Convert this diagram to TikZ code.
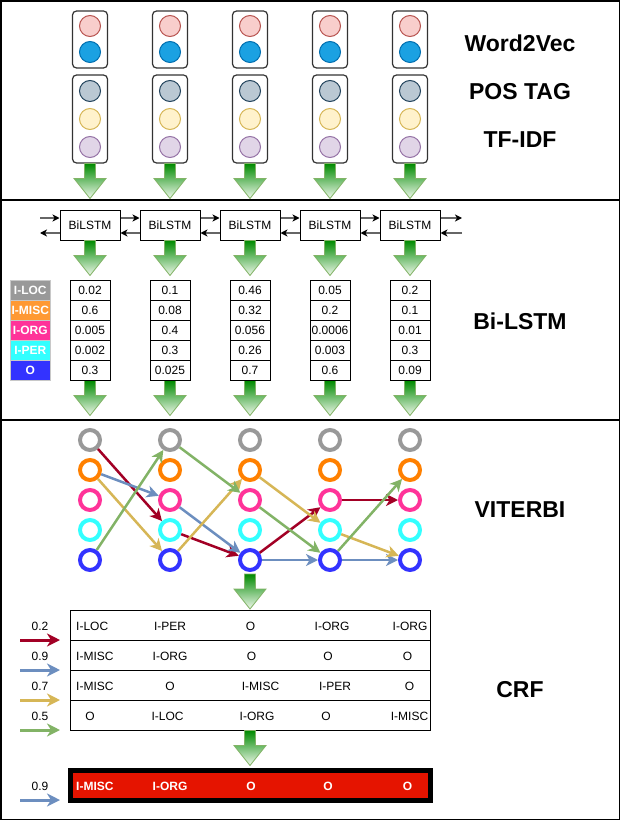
\documentclass[tikz,border=0pt]{standalone}
\usepackage{fontspec}
\setmainfont{Liberation Sans}
\usetikzlibrary{arrows.meta,shapes.geometric}
\definecolor{redF}{HTML}{F8CECC}\definecolor{redS}{HTML}{B85450}
\definecolor{bluF}{HTML}{1BA1E2}\definecolor{bluS}{HTML}{006EAF}
\definecolor{gryF}{HTML}{BAC8D3}\definecolor{gryS}{HTML}{23445D}
\definecolor{yelF}{HTML}{FFF2CC}\definecolor{yelS}{HTML}{D6B656}
\definecolor{purF}{HTML}{E1D5E7}\definecolor{purS}{HTML}{9673A6}
\definecolor{gtop}{HTML}{008A00}\definecolor{gbot}{HTML}{F0F8EC}
\definecolor{gline}{HTML}{82B366}
\definecolor{lgray}{HTML}{999999}\definecolor{lorange}{HTML}{FF9933}
\definecolor{lpink}{HTML}{FF3399}\definecolor{lcyan}{HTML}{33FFFF}
\definecolor{lblue}{HTML}{3333FF}\definecolor{legborder}{HTML}{C8C8C8}
\definecolor{vorange}{HTML}{FF8000}
\definecolor{eRed}{HTML}{A20025}\definecolor{eBlue}{HTML}{6C8EBF}
\definecolor{eYel}{HTML}{D6B656}\definecolor{eGreen}{HTML}{82B366}
\definecolor{finalred}{HTML}{E51400}\definecolor{conn}{HTML}{666666}
\newcommand\greenarrow[2]{%
  \path[draw=gline, line width=0.8, top color=gtop, bottom color=gbot]
  ({#1-5.5},{#2}) -- ({#1+5.5},{#2}) -- ({#1+5.5},{#2+15}) -- ({#1+16},{#2+15})
  -- ({#1},{#2+35}) -- ({#1-16},{#2+15}) -- ({#1-5.5},{#2+15}) -- cycle;}
\begin{document}
\begin{tikzpicture}[x=1pt,y=-1pt,
  topbox/.style={draw=black!80, rounded corners=4pt, line width=1.2, minimum width=35, inner sep=0},
  topdot/.style={circle, minimum size=21, inner sep=0, line width=1},
  lstmbox/.style={draw, line width=1, minimum width=60, minimum height=30, inner sep=0, font=\fontsize{12}{14}\selectfont},
  probcell/.style={draw, line width=1, minimum width=40, minimum height=20, inner sep=0, font=\fontsize{12}{14}\selectfont},
  legcell/.style={draw=legborder, line width=0.8, minimum width=40, minimum height=20, inner sep=0, text=white, font=\fontsize{12}{14}\selectfont\bfseries},
  vring/.style={circle, draw, line width=4, minimum size=20, inner sep=0},
  titletext/.style={font=\fontsize{23}{27}\selectfont\bfseries},
  smalltext/.style={inner sep=0, font=\fontsize{12}{14}\selectfont},
  vedge/.style={line width=2.5, -{Stealth[length=12pt,width=12pt,inset=3.5pt]}},
  lstmconn/.style={draw=conn, line width=1.5, -{Stealth[length=7pt,width=7pt,inset=2pt,black]}},
  crfrow/.style={draw, line width=1, minimum width=360, minimum height=30, inner sep=0},
  inarrow/.style={line width=3, -{Stealth[length=13pt,width=13pt,inset=4pt]}},
  whitebold/.style={inner sep=0, text=white, font=\fontsize{12}{14}\selectfont\bfseries}]
\useasboundingbox (0,0) rectangle (621,821);
% frames
\draw[line width=1.5] (1,1) rectangle (619.5,200);
\draw[line width=1.5] (1,200) rectangle (619.5,420);
\draw[line width=1.5] (1,420) rectangle (619.5,819.5);
% section 1
\foreach \c/\x in {1/90,2/170,3/250,4/330,5/410} {
  \node[topbox, minimum height=57] (wb\c) at (\x,39.5) {};
  \node[topdot, fill=redF, draw=redS] (wr\c) at (\x,26) {};
  \node[topdot, fill=bluF, draw=bluS] (wu\c) at (\x,52) {};
  \node[topbox, minimum height=88] (pb\c) at (\x,119) {};
  \node[topdot, fill=gryF, draw=gryS] (pa\c) at (\x,91) {};
  \node[topdot, fill=yelF, draw=yelS] (pc\c) at (\x,119) {};
  \node[topdot, fill=purF, draw=purS] (pd\c) at (\x,147) {};
  \greenarrow{\x}{163.5}
}
\node[titletext] (tw2v) at (520,43) {Word2Vec};
\node[titletext] (tpos) at (520,92) {POS TAG};
\node[titletext] (ttf) at (520,140) {TF-IDF};
% section 2
\foreach \c/\x in {1/90,2/170,3/250,4/330,5/410} {
  \node[lstmbox] (b\c) at (\x,225.5) {BiLSTM};
  \greenarrow{\x}{240.5}
  \greenarrow{\x}{380.5}
}
\coordinate (lin) at (40,218);
\coordinate (lout) at (40,233);
\coordinate (rout) at (462,218);
\coordinate (rin) at (462,233);
\draw[lstmconn] (lin) -- ([yshift=7.5pt]b1.west);
\draw[lstmconn] ([yshift=-7.5pt]b1.west) -- (lout);
\foreach \a/\b in {1/2,2/3,3/4,4/5} {
  \draw[lstmconn] ([yshift=7.5pt]b\a.east) -- ([yshift=7.5pt]b\b.west);
  \draw[lstmconn] ([yshift=-7.5pt]b\b.west) -- ([yshift=-7.5pt]b\a.east);
}
\draw[lstmconn] ([yshift=7.5pt]b5.east) -- (rout);
\draw[lstmconn] (rin) -- ([yshift=-7.5pt]b5.east);
\foreach \c/\x/\vals in {1/90/{0.02,0.6,0.005,0.002,0.3},2/170/{0.1,0.08,0.4,0.3,0.025},3/250/{0.46,0.32,0.056,0.26,0.7},4/330/{0.05,0.2,0.0006,0.003,0.6},5/410/{0.2,0.1,0.01,0.3,0.09}} {
  \foreach \v [count=\r] in \vals {
    \node[probcell] (t\c\r) at (\x,{270+20*\r}) {\v};
  }
}
\node[legcell, fill=lgray] (l1) at (30.3,290) {I-LOC};
\node[legcell, fill=lorange] (l2) at (30.3,310) {I-MISC};
\node[legcell, fill=lpink] (l3) at (30.3,330) {I-ORG};
\node[legcell, fill=lcyan] (l4) at (30.3,350) {I-PER};
\node[legcell, fill=lblue] (l5) at (30.3,370) {O};
\node[titletext] (tbil) at (520,321) {Bi-LSTM};
% section 3
\foreach \c/\x in {1/90,2/170,3/250,4/330,5/410} {
  \foreach \r/\col in {1/lgray,2/vorange,3/lpink,4/lcyan,5/lblue} {
    \node[vring, draw=\col] (v\c\r) at (\x,{410+30*\r}) {};
  }
}
\draw[vedge, eRed] (v11) -- (v24);
\draw[vedge, eRed] (v24) -- (v35);
\draw[vedge, eRed] (v35) -- (v43);
\draw[vedge, eRed] (v43) -- (v53);
\draw[vedge, eBlue] (v12) -- (v23);
\draw[vedge, eBlue] (v23) -- (v35);
\draw[vedge, eBlue] (v35) -- (v45);
\draw[vedge, eBlue] (v45) -- (v55);
\draw[vedge, eYel] (v12) -- (v25);
\draw[vedge, eYel] (v25) -- (v32);
\draw[vedge, eYel] (v32) -- (v44);
\draw[vedge, eYel] (v44) -- (v55);
\draw[vedge, eGreen] (v15) -- (v21);
\draw[vedge, eGreen] (v21) -- (v33);
\draw[vedge, eGreen] (v33) -- (v45);
\draw[vedge, eGreen] (v45) -- (v52);
\node[titletext] (tvit) at (520,510) {VITERBI};
\greenarrow{250}{574}
% CRF
\node[crfrow] (crf1) at (250,625) {};
\node[crfrow] (crf2) at (250,655) {};
\node[crfrow] (crf3) at (250,685) {};
\node[crfrow] (crf4) at (250,715) {};
\node[smalltext, anchor=west] (c11) at (76,626) {I-LOC};
\node[smalltext] (c12) at (170,626) {I-PER};
\node[smalltext] (c13) at (250.5,626) {O};
\node[smalltext] (c14) at (332,626) {I-ORG};
\node[smalltext] (c15) at (410,626) {I-ORG};
\node[smalltext, anchor=west] (c21) at (76,656) {I-MISC};
\node[smalltext] (c22) at (170,656) {I-ORG};
\node[smalltext] (c23) at (251.5,656) {O};
\node[smalltext] (c24) at (328,656) {O};
\node[smalltext] (c25) at (407.5,656) {O};
\node[smalltext, anchor=west] (c31) at (76,686) {I-MISC};
\node[smalltext] (c32) at (170,686) {O};
\node[smalltext] (c33) at (260.5,686) {I-MISC};
\node[smalltext] (c34) at (335,686) {I-PER};
\node[smalltext] (c35) at (409.5,686) {O};
\node[smalltext] (c41) at (90,716) {O};
\node[smalltext] (c42) at (167.5,716) {I-LOC};
\node[smalltext] (c43) at (257,716) {I-ORG};
\node[smalltext] (c44) at (326,716) {O};
\node[smalltext] (c45) at (409.5,716) {I-MISC};
\foreach \k/\y/\v/\col in {1/640/0.2/eRed,2/670/0.9/eBlue,3/700/0.7/eYel,4/730/0.5/eGreen,5/800/0.9/eBlue} {
  \coordinate (ias\k) at (20,\y);
  \coordinate (iae\k) at (60,\y);
  \draw[inarrow, \col] (ias\k) -- (iae\k);
  \node[smalltext] (num\k) at (40,{\y-14}) {\v};
}
\node[titletext] (tcrf) at (520,690) {CRF};
\greenarrow{250}{730.5}
\node[draw=black, line width=4.4, fill=finalred, minimum width=360, minimum height=30, inner sep=0] (final) at (250.3,785.5) {};
\node[whitebold, anchor=west] (f1) at (76,786) {I-MISC};
\node[whitebold] (f2) at (170,786) {I-ORG};
\node[whitebold] (f3) at (251,786) {O};
\node[whitebold] (f4) at (328,786) {O};
\node[whitebold] (f5) at (407.5,786) {O};
\end{tikzpicture}
\end{document}
